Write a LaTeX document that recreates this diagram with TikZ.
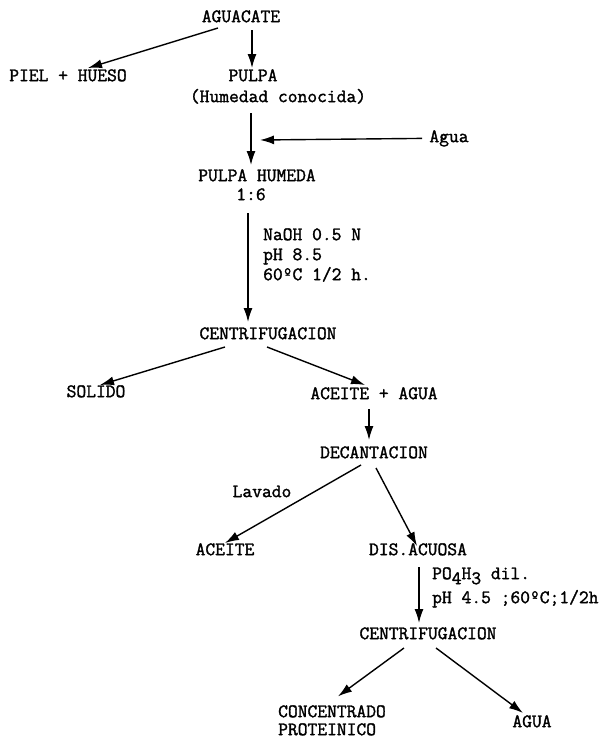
\documentclass[tikz,border=0pt]{standalone}
\usepackage{fontspec}
\newfontfamily\twfont{Latin Modern Mono}[FakeBold=1.6]
\usetikzlibrary{arrows.meta,calc}
\tikzset{
  lbl/.style={inner sep=0pt, anchor=mid, font=\fontsize{19}{22}\selectfont\twfont\bfseries},
  cnd/.style={inner sep=0pt, anchor=mid west, font=\fontsize{19}{22}\selectfont\twfont\bfseries},
  arr/.style={line width=1.4pt, -{Latex[length=14pt,width=9pt]}}
}
\begin{document}
\begin{tikzpicture}[x=1pt,y=-1pt]
\useasboundingbox (0,0) rectangle (604,739);
% nodes
\node[lbl] (agu) at (241,20) {AGUACATE};
\node[lbl] (piel) at (68,79) {PIEL + HUESO};
\node[lbl] (pulpa) at (253,79) {PULPA};
\node[lbl] (hum) at (278,100) {(Humedad conocida)};
\node[lbl] (agua1) at (449,140) {Agua};
\node[lbl] (ph) at (257,179) {PULPA HUMEDA};
\node[lbl] (r16) at (251,198) {1:6};
\node[cnd] (n1) at (263,238) {NaOH 0.5 N};
\node[cnd] (n2) at (263,258) {pH 8.5};
\node[cnd] (n3) at (263,278) {60ºC 1/2 h.};
\node[lbl] (c1) at (268,337) {CENTRIFUGACION};
\node[lbl] (sol) at (96,395) {SOLIDO};
\node[lbl] (aa) at (374,397) {ACEITE + AGUA};
\node[lbl] (dec) at (374,456) {DECANTACION};
\node[lbl] (lav) at (262,495) {Lavado};
\node[lbl] (ace) at (225,553) {ACEITE};
\node[lbl] (dis) at (418,553) {DIS.ACUOSA};
\node[cnd] (p1) at (432,577) {PO\raisebox{-5pt}{4}H\raisebox{-5pt}{3} dil.};
\node[cnd] (p2) at (432,601) {pH 4.5 ;60ºC;1/2h};
\node[lbl] (c2) at (428,637) {CENTRIFUGACION};
\node[cnd] (conc1) at (278,715) {CONCENTRADO};
\node[cnd] (conc2) at (278,733) {PROTEINICO};
\node[lbl] (agua2) at (532,725) {AGUA};
\coordinate (j1) at (260,140);
% connectors
\draw[arr] ($(agu.mid)+(-23,8)$) -- ($(piel.mid)+(20,-11)$);
\draw[arr] ($(agu.mid)+(11,10)$) -- ($(pulpa.mid)+(-1,-11)$);
\draw[arr] ($(hum.mid)+(-27,13)$) -- ($(ph.mid)+(-6,-14)$);
\draw[arr] ($(agua1.west)+(-7,0)$) -- (j1);
\draw[arr] ($(r16.mid)+(-3,15)$) -- ($(c1.mid)+(-20,-15)$);
\draw[arr] ($(c1.mid)+(-43,10)$) -- ($(sol.mid)+(4,-10)$);
\draw[arr] ($(c1.mid)+(-1,10)$) -- ($(aa.mid)+(-9,-12)$);
\draw[arr] ($(aa.mid)+(-5,12)$) -- ($(dec.mid)+(-5,-16)$);
\draw[arr] ($(dec.mid)+(-13,9)$) -- ($(ace.mid)+(0,-10)$);
\draw[arr] ($(dec.mid)+(2,12)$) -- ($(dis.mid)+(-1,-7)$);
\draw[arr] ($(dis.mid)+(1,14)$) -- ($(c2.mid)+(-9,-14)$);
\draw[arr] ($(c2.mid)+(-24,11)$) -- ($(conc1.west)+(60,-15)$);
\draw[arr] ($(c2.mid)+(8,11)$) -- ($(agua2.mid)+(-9,-12)$);
\end{tikzpicture}
\end{document}
